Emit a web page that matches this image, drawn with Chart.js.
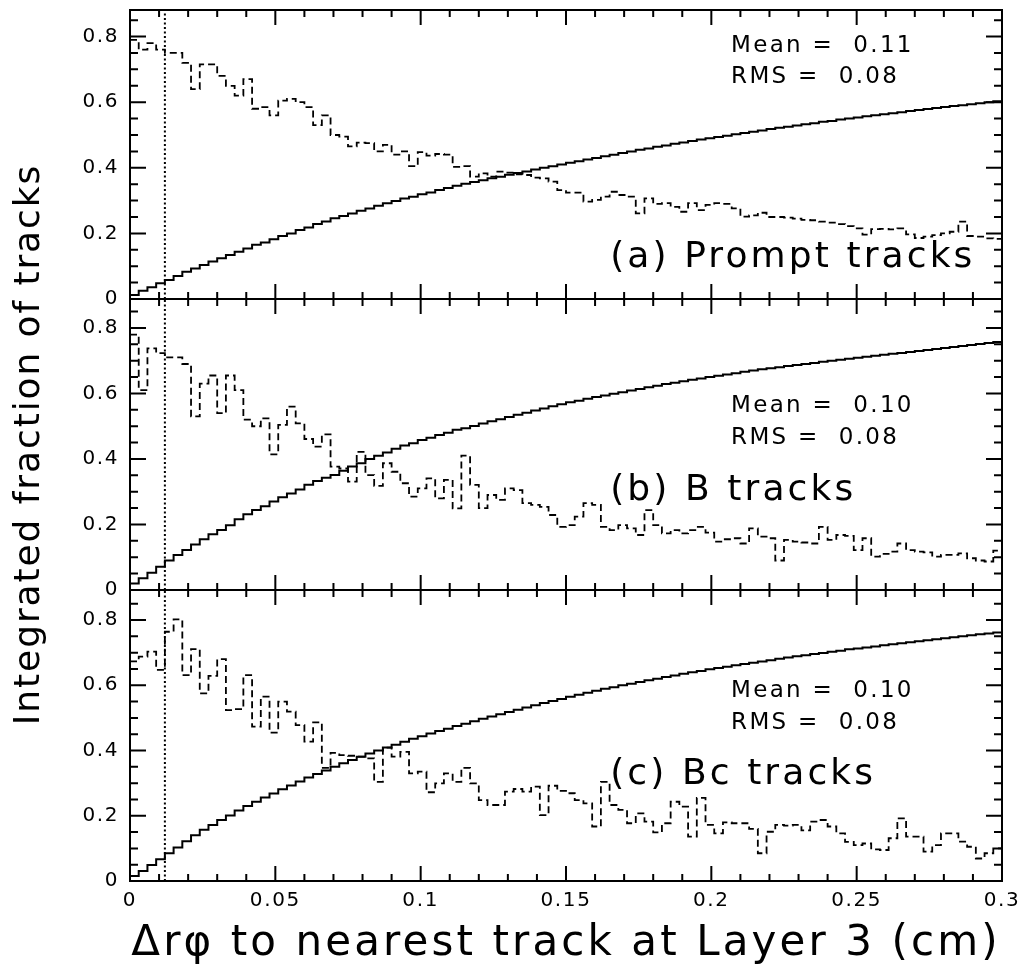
<!DOCTYPE html>
<html><head><meta charset="utf-8">
<script src="https://cdn.jsdelivr.net/npm/chart.js@4.4.1/dist/chart.umd.min.js"></script>
<style>
html,body{margin:0;padding:0;background:#fff;}
#wrap{position:relative;width:1026px;height:973px;background:#fff;overflow:hidden;}
#wrap canvas{position:absolute;left:0;top:0;}
</style></head><body>
<div id="wrap">
<canvas id="ca" width="1026" height="973"></canvas>
<canvas id="cb" width="1026" height="973"></canvas>
<canvas id="cc" width="1026" height="973"></canvas>
</div>
<script>
// ---------------- data ----------------
const binWidth = 0.003;
const xTickValues = [0, 0.05, 0.1, 0.15, 0.2, 0.25, 0.3];
const xTickLabels = ['0', '0.05', '0.1', '0.15', '0.2', '0.25', '0.3'];
const yTickValues = [0, 0.2, 0.4, 0.6, 0.8];
const yTickLabels = ['0', '0.2', '0.4', '0.6', '0.8'];
const cutX = 0.012;
const xTitle = 'Δrφ to nearest track at Layer 3 (cm)';
const yTitle = 'Integrated fraction of tracks';
const panelNames = ['(a) Prompt tracks', '(b) B tracks', '(c) Bc tracks'];
const meanValues = ['0.11', '0.10', '0.10'];
const rmsValues = ['0.08', '0.08', '0.08'];

const cumA = [0.012,0.025,0.036,0.048,0.058,0.070,0.083,0.093,0.104,0.114,
0.124,0.134,0.144,0.154,0.165,0.172,0.182,0.192,0.200,0.210,
0.218,0.229,0.236,0.246,0.253,0.261,0.269,0.276,0.284,0.292,
0.299,0.306,0.312,0.319,0.325,0.332,0.338,0.345,0.351,0.357,
0.362,0.368,0.373,0.379,0.384,0.389,0.395,0.400,0.405,0.410,
0.415,0.420,0.425,0.430,0.435,0.440,0.445,0.450,0.455,0.459,
0.464,0.468,0.473,0.477,0.482,0.486,0.490,0.494,0.498,0.502,
0.506,0.510,0.514,0.518,0.522,0.525,0.529,0.533,0.536,0.540,
0.543,0.547,0.550,0.553,0.557,0.560,0.563,0.566,0.569,0.573,
0.576,0.579,0.582,0.585,0.588,0.591,0.594,0.597,0.600,0.603];
const distA = [0.79,0.76,0.78,0.76,0.75,0.75,0.72,0.64,0.715,0.715,
0.68,0.65,0.62,0.67,0.58,0.585,0.56,0.605,0.61,0.60,
0.585,0.53,0.56,0.50,0.495,0.465,0.477,0.475,0.45,0.47,
0.44,0.45,0.405,0.448,0.437,0.442,0.44,0.403,0.405,0.373,
0.383,0.373,0.388,0.385,0.38,0.378,0.37,0.368,0.358,0.332,
0.324,0.324,0.297,0.302,0.312,0.327,0.317,0.312,0.261,0.307,
0.29,0.292,0.281,0.266,0.292,0.271,0.287,0.292,0.29,0.276,
0.251,0.255,0.263,0.25,0.25,0.248,0.245,0.241,0.24,0.236,
0.233,0.228,0.222,0.215,0.196,0.213,0.214,0.212,0.215,0.197,
0.186,0.19,0.195,0.2,0.205,0.236,0.192,0.19,0.185,0.183];

const cumB = [0.020,0.036,0.053,0.071,0.090,0.107,0.122,0.139,0.155,0.170,
0.183,0.198,0.216,0.231,0.244,0.256,0.270,0.283,0.295,0.307,
0.321,0.333,0.343,0.351,0.364,0.377,0.387,0.400,0.410,0.420,
0.431,0.441,0.448,0.458,0.465,0.473,0.480,0.489,0.494,0.501,
0.508,0.515,0.521,0.528,0.535,0.541,0.548,0.554,0.561,0.567,
0.573,0.578,0.584,0.589,0.594,0.599,0.604,0.609,0.614,0.619,
0.624,0.629,0.633,0.637,0.642,0.646,0.650,0.654,0.658,0.662,
0.666,0.670,0.674,0.677,0.680,0.684,0.687,0.690,0.693,0.697,
0.700,0.703,0.706,0.709,0.712,0.715,0.718,0.721,0.724,0.727,
0.730,0.733,0.736,0.739,0.742,0.745,0.748,0.751,0.754,0.757];
const distB = [0.78,0.61,0.738,0.723,0.71,0.71,0.69,0.53,0.63,0.655,
0.54,0.655,0.61,0.52,0.50,0.524,0.414,0.504,0.56,0.509,
0.461,0.438,0.475,0.377,0.371,0.331,0.422,0.351,0.318,0.387,
0.361,0.326,0.285,0.31,0.341,0.28,0.336,0.249,0.41,0.321,
0.25,0.29,0.275,0.31,0.305,0.265,0.26,0.254,0.229,0.193,
0.198,0.224,0.265,0.26,0.193,0.183,0.198,0.188,0.168,0.244,
0.198,0.173,0.183,0.173,0.183,0.193,0.175,0.148,0.155,0.158,
0.142,0.188,0.163,0.158,0.09,0.153,0.148,0.145,0.142,0.193,
0.153,0.168,0.165,0.122,0.158,0.102,0.11,0.117,0.142,0.122,
0.117,0.115,0.102,0.107,0.107,0.112,0.097,0.09,0.087,0.12];

const cumC = [0.015,0.031,0.049,0.067,0.085,0.103,0.122,0.140,0.157,0.172,
0.187,0.201,0.216,0.230,0.243,0.256,0.268,0.281,0.293,0.305,
0.317,0.328,0.339,0.350,0.361,0.371,0.381,0.391,0.400,0.409,
0.418,0.427,0.436,0.444,0.452,0.460,0.467,0.475,0.482,0.490,
0.497,0.504,0.511,0.518,0.525,0.532,0.539,0.546,0.552,0.558,
0.565,0.571,0.577,0.583,0.589,0.594,0.600,0.605,0.610,0.615,
0.620,0.625,0.630,0.635,0.640,0.644,0.649,0.653,0.657,0.661,
0.665,0.669,0.673,0.677,0.681,0.685,0.689,0.692,0.696,0.699,
0.703,0.706,0.710,0.713,0.716,0.719,0.723,0.726,0.729,0.732,
0.735,0.738,0.741,0.744,0.747,0.750,0.753,0.756,0.759,0.762];
const distC = [0.673,0.688,0.703,0.647,0.764,0.802,0.631,0.711,0.575,0.629,
0.68,0.524,0.527,0.631,0.473,0.565,0.455,0.55,0.519,0.478,
0.427,0.486,0.347,0.393,0.386,0.384,0.381,0.376,0.304,0.409,
0.381,0.396,0.33,0.335,0.272,0.299,0.33,0.304,0.347,0.299,
0.248,0.233,0.233,0.274,0.282,0.274,0.289,0.202,0.292,0.276,
0.269,0.248,0.238,0.167,0.304,0.233,0.218,0.177,0.207,0.182,
0.149,0.177,0.243,0.228,0.136,0.255,0.172,0.146,0.18,0.177,
0.177,0.16,0.085,0.151,0.172,0.17,0.172,0.155,0.182,0.187,
0.167,0.146,0.12,0.11,0.115,0.097,0.095,0.131,0.192,0.136,
0.136,0.09,0.11,0.146,0.146,0.121,0.105,0.069,0.085,0.1];

// ---------------- layout / style ----------------
const FONT = "'DejaVu Sans', sans-serif";
const W = 1026, H = 973;
const panels = [
  {id:'ca', top:10,  bottom:299, yMax:0.881, cum:cumA, dist:distA, meanY:0.753, rmsY:0.658, labelY:0.0985},
  {id:'cb', top:299, bottom:590, yMax:0.8885, cum:cumB, dist:distB, meanY:0.544, rmsY:0.445, labelY:0.2748},
  {id:'cc', top:590, bottom:881, yMax:0.892, cum:cumC, dist:distC, meanY:0.564, rmsY:0.466, labelY:0.2973}
];
const statX = 0.2068, labelX = 0.1652;

function histPoints(vals) {
  const pts = vals.map((v, i) => ({x: i * binWidth, y: v}));
  pts.push({x: vals.length * binWidth, y: vals[vals.length - 1]});
  return pts;
}

const spacingPlugin = {
  id: 'spacingPlugin',
  beforeDraw(chart) {
    chart.ctx.letterSpacing = '1.6px';
    for (const s of Object.values(chart.scales)) {
      if (s._lsPatched) continue;
      const orig = s.drawTitle;
      const ls = s.axis === 'x' ? '3.1px' : '1.9px';
      s.drawTitle = function (...args) {
        const c = this.ctx; const prev = c.letterSpacing;
        c.letterSpacing = ls; orig.apply(this, args); c.letterSpacing = prev;
      };
      s._lsPatched = true;
    }
  }
};

const frameTicks = {
  id: 'frameTicks',
  afterDraw(chart) {
    const {ctx, chartArea: a, scales: {x, y}} = chart;
    ctx.save();
    ctx.strokeStyle = '#000'; ctx.lineWidth = 2; ctx.setLineDash([]);
    ctx.beginPath();
    for (let i = 1; i < 30; i++) {
      const px = x.getPixelForValue(i * 0.01);
      const len = i % 5 === 0 ? 15 : 7;
      ctx.moveTo(px, a.top); ctx.lineTo(px, a.top + len);
      ctx.moveTo(px, a.bottom); ctx.lineTo(px, a.bottom - len);
    }
    for (let j = 1; j * 0.05 < y.max; j++) {
      const py = y.getPixelForValue(j * 0.05);
      const len = j % 4 === 0 ? 16 : 8;
      ctx.moveTo(a.left, py); ctx.lineTo(a.left + len, py);
      ctx.moveTo(a.right, py); ctx.lineTo(a.right - len, py);
    }
    ctx.stroke();
    ctx.strokeRect(a.left, a.top, a.right - a.left, a.bottom - a.top);
    ctx.restore();
  }
};

const panelText = {
  id: 'panelText',
  afterDraw(chart, args, o) {
    const {ctx, scales: {x, y}} = chart;
    ctx.save();
    ctx.fillStyle = '#000'; ctx.textAlign = 'left'; ctx.textBaseline = 'alphabetic';
    ctx.font = '23px ' + FONT; ctx.letterSpacing = '2.3px';
    const sx = x.getPixelForValue(o.statX);
    ctx.fillText(o.mean, sx, y.getPixelForValue(o.meanY));
    ctx.fillText(o.rms, sx, y.getPixelForValue(o.rmsY));
    ctx.font = '36px ' + FONT; ctx.letterSpacing = '3.1px';
    ctx.fillText(o.name, x.getPixelForValue(o.labelX), y.getPixelForValue(o.labelY));
    ctx.restore();
  }
};

panels.forEach((p, idx) => {
  const isLast = idx === panels.length - 1;
  new Chart(document.getElementById(p.id), {
    type: 'line',
    data: {
      datasets: [
        {data: histPoints(p.dist), borderColor: '#000', borderWidth: 1.8, borderDash: [7, 4],
         stepped: 'before', pointRadius: 0, fill: false, tension: 0},
        {data: histPoints(p.cum), borderColor: '#000', borderWidth: 2,
         stepped: 'before', pointRadius: 0, fill: false, tension: 0},
        {data: [{x: cutX, y: 0}, {x: cutX, y: p.yMax}], borderColor: '#000', borderWidth: 2,
         borderDash: [2, 2.5], pointRadius: 0, fill: false}
      ]
    },
    options: {
      responsive: false, animation: false, devicePixelRatio: 1, events: [],
      layout: {padding: {left: 0, right: 24, top: p.top, bottom: isLast ? 0 : H - p.bottom}},
      plugins: {
        legend: {display: false}, tooltip: {enabled: false},
        panelText: {name: panelNames[idx], mean: 'Mean =  ' + meanValues[idx], rms: 'RMS =  ' + rmsValues[idx],
                    statX: statX, meanY: p.meanY, rmsY: p.rmsY, labelX: labelX, labelY: p.labelY}
      },
      scales: {
        x: {
          type: 'linear', min: 0, max: 0.3, display: isLast,
          grid: {display: false, drawTicks: false}, border: {display: false},
          afterBuildTicks(s) { s.ticks = xTickValues.map(v => ({value: v})); },
          afterFit(s) { s.height = isLast ? H - p.bottom : 0; s.paddingLeft = 0; s.paddingRight = 0; s.paddingTop = 0; s.paddingBottom = 0; },
          ticks: {autoSkip: false, maxRotation: 0, minRotation: 0, padding: 8, color: '#000',
                  font: {family: FONT, size: 20}, callback: (v, i) => xTickLabels[i]},
          title: {display: isLast, text: xTitle, color: '#000',
                  font: {family: FONT, size: 42, lineHeight: 1}, padding: {top: 0, bottom: 8}}
        },
        y: {
          type: 'linear', min: 0, max: p.yMax,
          grid: {display: false, drawTicks: false}, border: {display: false},
          afterBuildTicks(s) { s.ticks = yTickValues.map(v => ({value: v})); },
          afterFit(s) { s.width = 130; s.paddingTop = 0; s.paddingBottom = 0; s.paddingLeft = 0; s.paddingRight = 0; },
          ticks: {padding: 11, color: '#000', font: {family: FONT, size: 20}, callback: (v, i) => yTickLabels[i]},
          title: {display: idx === 1, text: yTitle, color: '#000',
                  font: {family: FONT, size: 36, lineHeight: 1}, padding: {top: 11.5, bottom: 0}}
        }
      }
    },
    plugins: [spacingPlugin, frameTicks, panelText]
  });
});
</script>
</body></html>
